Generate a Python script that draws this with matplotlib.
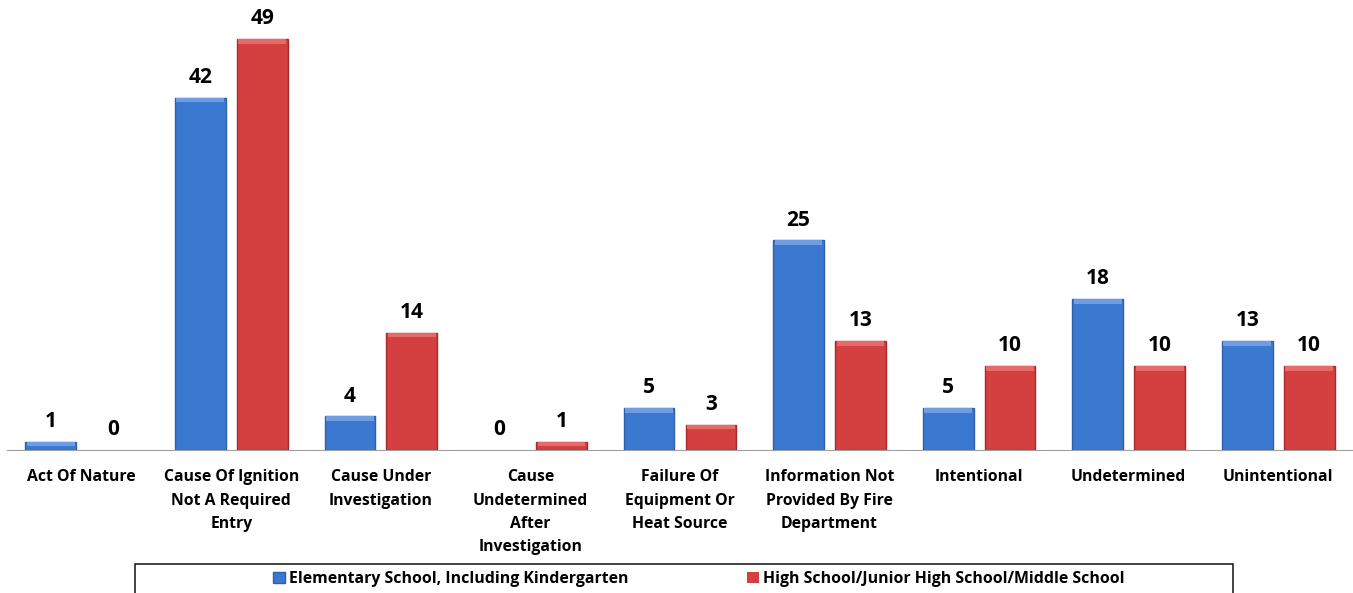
#bar chart of school fire causes by school type
import numpy as np
import matplotlib.pyplot as plt
from matplotlib.patches import Rectangle

plt.rcParams['font.family'] = ['Open Sans', 'DejaVu Sans']

#data
categories = ["Act Of Nature", "Cause Of Ignition\nNot A Required\nEntry", "Cause Under\nInvestigation",
              "Cause\nUndetermined\nAfter\nInvestigation", "Failure Of\nEquipment Or\nHeat Source",
              "Information Not\nProvided By Fire\nDepartment", "Intentional", "Undetermined", "Unintentional"]
elementary = [1, 42, 4, 0, 5, 25, 5, 18, 13]
high_school = [0, 49, 14, 1, 3, 13, 10, 10, 10]
series_names = ["Elementary School, Including Kindergarten", "High School/Junior High School/Middle School"]

blue = "#3b78d0"
blue_edge = "#2f5fa8"
red = "#d43f3f"
red_edge = "#a82a2a"

fig = plt.figure(figsize=(13.53, 5.93), dpi=100)
ax = fig.add_axes([7 / 1353, 1 - 450 / 593, 1346 / 1353, 450 / 593])

x = np.arange(len(categories))
w = 0.34
off = 0.207
lw1 = [1 if v > 0 else 0 for v in elementary]
lw2 = [1 if v > 0 else 0 for v in high_school]
b1 = ax.bar(x - off, elementary, w, color=blue, edgecolor=blue_edge, linewidth=lw1, label=series_names[0])
b2 = ax.bar(x + off, high_school, w, color=red, edgecolor=red_edge, linewidth=lw2, label=series_names[1])

#lighter top bevel to mimic the excel look
for bars, light in [(b1, "#6f9de3"), (b2, "#e56a6a")]:
    for b in bars:
        h = b.get_height()
        if h > 0:
            bev = min(0.55, h * 0.6)
            ax.bar(b.get_x() + b.get_width() / 2, bev, b.get_width() * 0.94, bottom=h - bev,
                   color=light, linewidth=0)

for bars in (b1, b2):
    for b in bars:
        ax.annotate(f"{int(b.get_height())}", (b.get_x() + b.get_width() / 2, b.get_height()),
                    xytext=(0, 7), textcoords="offset points", ha="center", va="bottom",
                    fontsize=15, fontweight="bold")

ax.set_xlim(-0.5, 8.5)
ax.set_ylim(0, 450 / 8.39)
ax.set_yticks([])
ax.set_xticks(x)
ax.set_xticklabels(categories, fontsize=11.3, fontweight="bold", linespacing=1.6)
ax.tick_params(axis="x", length=0, pad=14)
for s in ["top", "right", "left"]:
    ax.spines[s].set_visible(False)
ax.spines["bottom"].set_color("#a0a0a0")

#legend with a manual box (bottom edge falls off the image like the original)
fig.patches.append(Rectangle((135 / 1353, -5 / 593), 1098 / 1353, 34.5 / 593, transform=fig.transFigure,
                             facecolor="white", edgecolor="#222222", linewidth=1.2))
fig.legend(handles=[b1, b2], loc="center", bbox_to_anchor=(699 / 1353, 1 - 579 / 593), ncol=2,
           frameon=False, prop={"weight": "bold", "size": 11.4},
           handlelength=0.75, handleheight=0.75, handletextpad=0.25, columnspacing=7.5)

fig.savefig("out.png", dpi=100)
